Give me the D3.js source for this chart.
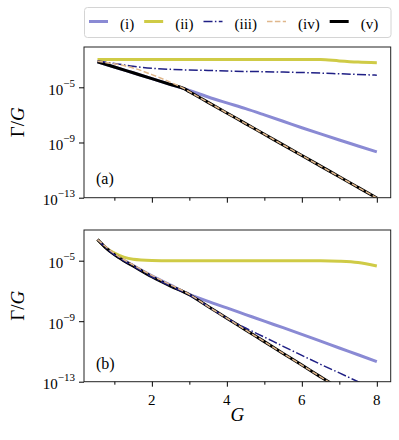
<!DOCTYPE html>
<html>
<head>
<meta charset="utf-8">
<script src="https://cdn.jsdelivr.net/npm/d3@7"></script>
<style>
  body { margin: 0; background: #fff; }
</style>
</head>
<body>
<div id="chart"></div>
<script>
// log10(Γ/G), panel (a)
const gA = [0.55, 1, 1.5, 2, 2.5, 2.86, 3, 3.5, 4, 4.5, 5, 5.5, 6, 6.5, 7, 7.5, 8];
const aI   = [-3.15, -3.53, -3.95, -4.37, -4.8, -5.1, -5.23, -5.7, -6.13, -6.55, -7.0, -7.46, -7.93, -8.38, -8.82, -9.25, -9.68];
const aII  = [-2.98, -2.98, -2.98, -2.98, -2.98, -2.98, -2.98, -2.98, -2.98, -2.98, -2.98, -2.98, -2.98, -2.99, -3.09, -3.17, -3.22];
const aIII = [-3.1, -3.27, -3.48, -3.62, -3.7, -3.74, -3.75, -3.78, -3.82, -3.85, -3.87, -3.9, -3.93, -3.97, -4.02, -4.07, -4.12];
const aIV  = [-3.12, -3.3, -3.6, -4.08, -4.64, -5.1, -5.32, -6.09, -6.86, -7.63, -8.4, -9.17, -9.94, -10.71, -11.48, -12.25, -13.02];
const aV   = [-3.15, -3.53, -3.95, -4.37, -4.8, -5.1, -5.32, -6.09, -6.86, -7.63, -8.4, -9.17, -9.94, -10.71, -11.48, -12.25, -13.02];

// panel (b)
const gB = [0.55, 0.75, 1, 1.25, 1.5, 2, 2.5, 3, 3.5, 4, 4.5, 5, 5.5, 6, 6.5, 7, 7.5, 8];
const bI   = [-3.6, -4.08, -4.57, -4.97, -5.32, -6.0, -6.62, -7.22, -7.69, -8.12, -8.56, -9.0, -9.43, -9.87, -10.32, -10.77, -11.22, -11.67];
const bII  = [-3.6, -4.1, -4.5, -4.76, -4.9, -4.98, -5.0, -5.0, -5.0, -5.0, -5.0, -5.0, -5.0, -5.0, -5.0, -5.03, -5.12, -5.35];
const bIII = [-3.6, -4.1, -4.6, -5.0, -5.35, -6.06, -6.68, -7.25, -8.03, -8.8, -9.45, -10.05, -10.66, -11.26, -11.85, -12.42, -13.0, -13.55];
const bIV  = [-3.6, -4.03, -4.52, -4.92, -5.28, -5.97, -6.6, -7.22, -8.03, -8.8, -9.58, -10.35, -11.13, -11.9, -12.68, -13.45, -14.2, -15.0];
const bV   = [-3.6, -4.1, -4.6, -5.0, -5.35, -6.06, -6.68, -7.25, -8.03, -8.8, -9.58, -10.35, -11.13, -11.9, -12.68, -13.45, -14.2, -15.0];

const seriesNames = ['(i)', '(ii)', '(iii)', '(iv)', '(v)'];
const yTickExps = [-5, -9, -13];
const xTicks = [2, 4, 6, 8];
const xMinor = [1, 3, 5, 7];

const styles = [
    { color: '#8a8ad4', width: 3, dash: null },
    { color: '#cfcb46', width: 3, dash: null },
    { color: '#1f1f85', width: 1.5, dash: '9,2.4,1.5,2.4' },
    { color: '#e0b78c', width: 1.5, dash: '5.5,2.4' },
    { color: '#000000', width: 3, dash: null }
];
const drawOrder = [0, 1, 4, 2, 3];
const serif = '"Liberation Serif", "Times New Roman", serif';

const width = 399, height = 440;
const left = 84, right = 390.7;

const svg = d3.select('#chart')
    .append('svg')
    .attr('width', width)
    .attr('height', height);

const xScale = d3.scaleLinear()
    .domain([0.19, 8.37])
    .range([left, right]);

function addText(parent) {
    return parent.append('text')
        .style('font-family', serif)
        .attr('fill', '#000');
}

const panels = [
    { name: 'a', top: 47, bottom: 197.7, topExp: -2.08, g: gA, series: [aI, aII, aIII, aIV, aV], label: '(a)', labelY: 184, xLabels: false },
    { name: 'b', top: 230, bottom: 381.7, topExp: -2.97, g: gB, series: [bI, bII, bIII, bIV, bV], label: '(b)', labelY: 369, xLabels: true }
];

panels.forEach(p => {
    const yScale = d3.scaleLog()
        .domain([1e-13, Math.pow(10, p.topExp)])
        .range([p.bottom, p.top]);

    svg.append('clipPath')
        .attr('id', 'clip-' + p.name)
        .append('rect')
        .attr('x', left)
        .attr('y', p.top)
        .attr('width', right - left)
        .attr('height', p.bottom - p.top);

    const lines = svg.append('g').attr('clip-path', `url(#clip-${p.name})`);

    drawOrder.forEach(k => {
        const line = d3.line()
            .x((d, i) => xScale(p.g[i]))
            .y(d => yScale(Math.pow(10, d)))
            .curve(d3.curveMonotoneX);
        const st = styles[k];
        lines.append('path')
            .datum(p.series[k])
            .attr('fill', 'none')
            .attr('stroke', st.color)
            .attr('stroke-width', st.width)
            .attr('stroke-dasharray', st.dash)
            .attr('stroke-linejoin', 'round')
            .attr('d', line);
    });

    /* frame */
    svg.append('rect')
        .attr('x', left)
        .attr('y', p.top)
        .attr('width', right - left)
        .attr('height', p.bottom - p.top)
        .attr('fill', 'none')
        .attr('stroke', '#222')
        .attr('stroke-width', 1);

    /* y ticks */
    svg.append('g')
        .attr('transform', `translate(${left},0)`)
        .call(d3.axisLeft(yScale)
            .tickValues(yTickExps.map(e => Math.pow(10, e)))
            .tickFormat('')
            .tickSize(5)
            .tickSizeOuter(0))
        .call(g => g.select('.domain').remove());

    yTickExps.forEach(e => {
        const t = addText(svg)
            .attr('x', left - 9)
            .attr('y', yScale(Math.pow(10, e)) + 7.7)
            .attr('text-anchor', 'end')
            .style('font-size', '15px');
        t.append('tspan').text('10');
        t.append('tspan').attr('dy', -8.3).style('font-size', '11px').text('\u2212' + Math.abs(e));
    });

    /* x ticks, major and minor */
    svg.append('g')
        .attr('transform', `translate(0,${p.bottom})`)
        .call(d3.axisBottom(xScale).tickValues(xTicks).tickFormat('').tickSize(5).tickSizeOuter(0))
        .call(g => g.select('.domain').remove());
    svg.append('g')
        .attr('transform', `translate(0,${p.bottom})`)
        .call(d3.axisBottom(xScale).tickValues(xMinor).tickFormat('').tickSize(3).tickSizeOuter(0))
        .call(g => g.select('.domain').remove());

    if (p.xLabels) {
        xTicks.forEach(v => {
            addText(svg)
                .attr('x', xScale(v))
                .attr('y', p.bottom + 23.3)
                .attr('text-anchor', 'middle')
                .style('font-size', '15px')
                .text(v);
        });
    }

    /* panel label */
    addText(svg)
        .attr('x', 96)
        .attr('y', p.labelY)
        .style('font-size', '16px')
        .text(p.label);

    /* y label */
    const yl = addText(svg)
        .attr('transform', `translate(24,${(p.top + p.bottom) / 2}) rotate(-90)`)
        .attr('text-anchor', 'middle')
        .style('font-size', '19px');
    yl.append('tspan').text('\u0393/');
    yl.append('tspan').style('font-style', 'italic').text('G');
});

/* x label */
addText(svg)
    .attr('x', (left + right) / 2)
    .attr('y', 420.5)
    .attr('text-anchor', 'middle')
    .style('font-size', '19px')
    .style('font-style', 'italic')
    .text('G');

/* legend */
const legend = svg.append('g');
legend.append('rect')
    .attr('x', 84.5)
    .attr('y', 7.5)
    .attr('width', 306.5)
    .attr('height', 30)
    .attr('rx', 3)
    .attr('fill', '#fff')
    .attr('stroke', '#d4d4d4')
    .attr('stroke-width', 1);

let lx = 89;
seriesNames.forEach((name, k) => {
    const st = styles[k];
    legend.append('line')
        .attr('x1', lx)
        .attr('x2', lx + 19)
        .attr('y1', 21.5)
        .attr('y2', 21.5)
        .attr('stroke', st.color)
        .attr('stroke-width', st.width)
        .attr('stroke-dasharray', st.dash);
    const t = addText(legend)
        .attr('x', lx + 31)
        .attr('y', 29)
        .style('font-size', '15px')
        .text(name);
    lx = lx + 31 + t.node().getComputedTextLength() + 10;
});
</script>
</body>
</html>
